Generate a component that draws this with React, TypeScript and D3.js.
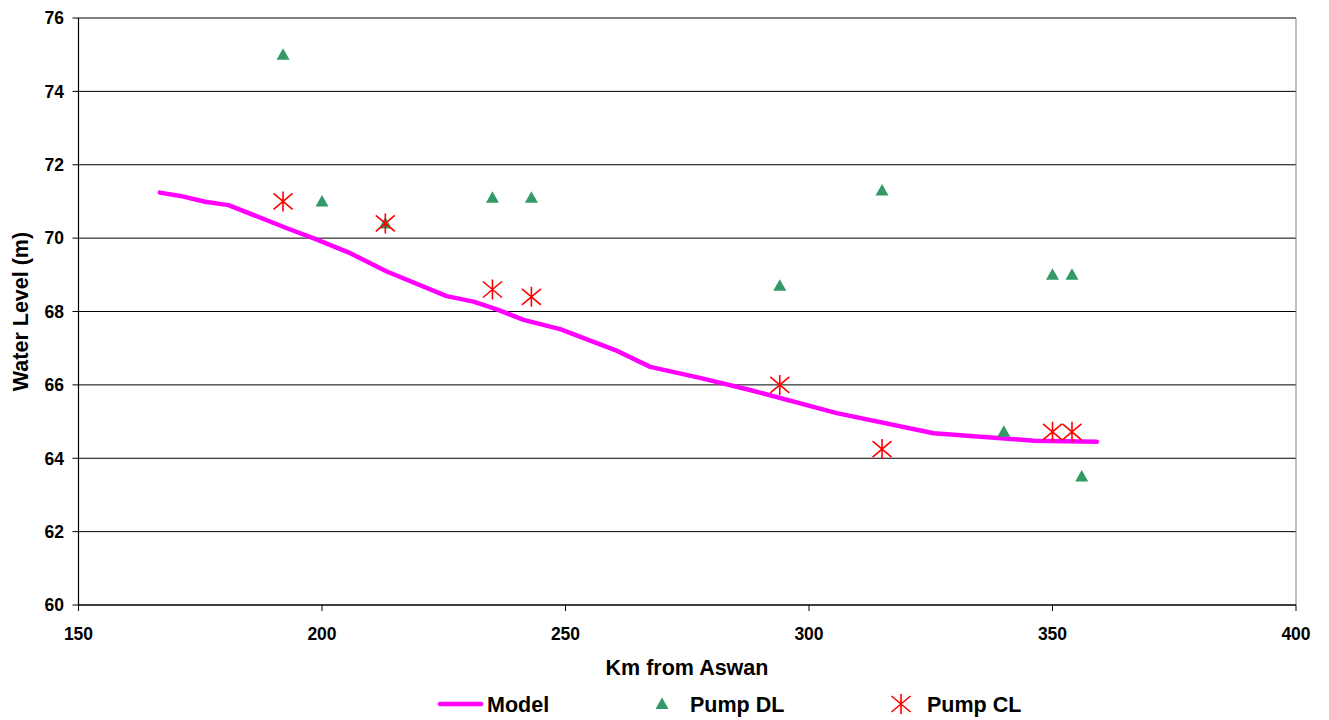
import React from "react";
import * as d3 from "d3";

// Model water-level profile (km from Aswan, level in m)
const modelKm = [166.7, 170.9, 176.0, 180.8, 192.8, 198.2, 205.8, 213.3, 225.6, 231.1, 235.9, 241.4, 248.9, 260.2, 267.4, 277.6, 287.9, 305.7, 325.6, 346.1, 359.1];
const modelLevel = [71.24, 71.15, 70.99, 70.9, 70.27, 70.0, 69.59, 69.09, 68.42, 68.27, 68.06, 67.77, 67.52, 66.95, 66.49, 66.19, 65.86, 65.23, 64.68, 64.48, 64.45];

// Pump observations, downstream level
const pumpDLKm = [192, 200, 213, 235, 243, 294, 315, 340, 350, 354, 356];
const pumpDLLevel = [75.0, 71.0, 70.4, 71.1, 71.1, 68.7, 71.3, 64.72, 69.0, 69.0, 63.5];

// Pump observations, canal level
const pumpCLKm = [192, 213, 235, 243, 294, 315, 350, 354];
const pumpCLLevel = [71.0, 70.4, 68.6, 68.4, 66.0, 64.25, 64.72, 64.72];

const xTicks = [150, 200, 250, 300, 350, 400];
const yTicks = [60, 62, 64, 66, 68, 70, 72, 74, 76];

const W = 1329;
const H = 720;
const left = 78.5;
const right = 1296;
const top = 18;
const bottom = 605;

const font = "'Liberation Sans', Arial, sans-serif";
const MAGENTA = "#FF00FF";
const GREEN = "#339966";
const RED = "#FF0000";

function Triangle({ cx, cy }: { cx: number; cy: number }) {
  return <path d={`M${cx},${cy - 6.5}L${cx + 6.5},${cy + 5}L${cx - 6.5},${cy + 5}Z`} fill={GREEN} />;
}

function Star({ cx, cy }: { cx: number; cy: number }) {
  return (
    <path
      d={`M${cx},${cy - 10}L${cx},${cy + 10}M${cx - 9.5},${cy - 8}L${cx + 9.5},${cy + 8}M${cx - 9.5},${cy + 8}L${cx + 9.5},${cy - 8}`}
      stroke={RED}
      strokeWidth={1.6}
      fill="none"
    />
  );
}

export default function App() {
  const x = d3.scaleLinear().domain([150, 400]).range([left, right]);
  const y = d3.scaleLinear().domain([60, 76]).range([bottom, top]);

  const modelData = modelKm.map((k, i) => [k, modelLevel[i]] as [number, number]);
  const line = d3
    .line<[number, number]>()
    .x((d) => x(d[0]))
    .y((d) => y(d[1]));

  return (
    <svg
      width={W}
      height={H}
      style={{ position: "absolute", left: 0, top: 0, background: "#fff" }}
      fontFamily={font}
    >
      {/* horizontal gridlines */}
      {yTicks.map((t) => (
        <line key={"g" + t} x1={left} x2={right} y1={y(t)} y2={y(t)} stroke="#000" strokeWidth={1} />
      ))}
      {/* right frame */}
      <line x1={right} x2={right} y1={top} y2={bottom} stroke="#808080" strokeWidth={1} />
      {/* axes */}
      <line x1={left} x2={left} y1={top} y2={bottom} stroke="#000" strokeWidth={1.2} />
      <line x1={left} x2={right} y1={bottom} y2={bottom} stroke="#000" strokeWidth={1.2} />
      {yTicks.map((t) => (
        <g key={"yt" + t}>
          <line x1={left - 6} x2={left} y1={y(t)} y2={y(t)} stroke="#000" strokeWidth={1} />
          <text x={64} y={y(t)} dy="0.36em" textAnchor="end" fontSize={17.5} fontWeight="bold">
            {t}
          </text>
        </g>
      ))}
      {xTicks.map((t) => (
        <g key={"xt" + t}>
          <line x1={x(t)} x2={x(t)} y1={bottom} y2={bottom + 6} stroke="#000" strokeWidth={1} />
          <text x={x(t)} y={639.5} textAnchor="middle" fontSize={17.5} fontWeight="bold">
            {t}
          </text>
        </g>
      ))}

      {/* axis titles */}
      <text x={687} y={675} textAnchor="middle" fontSize={21.5} fontWeight="bold">
        Km from Aswan
      </text>
      <text
        transform={`translate(28,${(top + bottom) / 2}) rotate(-90)`}
        textAnchor="middle"
        fontSize={21.5}
        fontWeight="bold"
      >
        Water Level (m)
      </text>

      {/* model line */}
      <path
        d={line(modelData) || ""}
        fill="none"
        stroke={MAGENTA}
        strokeWidth={4.5}
        strokeLinejoin="round"
        strokeLinecap="round"
      />

      {/* pump DL */}
      {pumpDLKm.map((k, i) => (
        <Triangle key={"dl" + i} cx={x(k)} cy={y(pumpDLLevel[i])} />
      ))}
      {/* pump CL */}
      {pumpCLKm.map((k, i) => (
        <Star key={"cl" + i} cx={x(k)} cy={y(pumpCLLevel[i])} />
      ))}

      {/* legend */}
      <line x1={440} x2={481} y1={704} y2={704} stroke={MAGENTA} strokeWidth={4.5} strokeLinecap="round" />
      <text x={487} y={712} fontSize={21.5} fontWeight="bold">
        Model
      </text>
      <Triangle cx={662} cy={704} />
      <text x={690} y={712} fontSize={21.5} fontWeight="bold">
        Pump DL
      </text>
      <Star cx={901} cy={704} />
      <text x={927} y={712} fontSize={21.5} fontWeight="bold">
        Pump CL
      </text>
    </svg>
  );
}
